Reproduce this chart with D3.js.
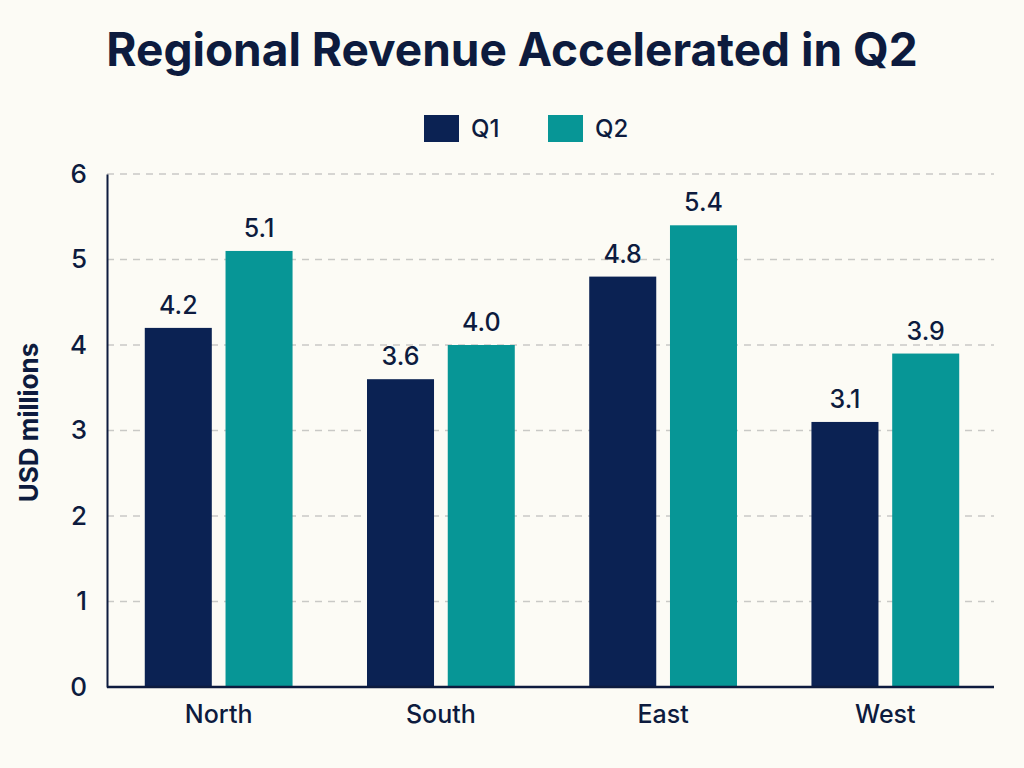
<!DOCTYPE html>
<html>
<head>
<meta charset="utf-8">
<script src="https://cdn.jsdelivr.net/npm/d3@7"></script>
<style>
  body { margin: 0; background: #fcfbf5; }
  svg { display: block; font-family: Inter, "Noto Sans", sans-serif; }
</style>
</head>
<body>
<div class="bar-diagram"></div>
<script>
var regions = ["North", "South", "East", "West"];
var quarters = ["Q1", "Q2"];
var q1Values = [4.2, 3.6, 4.8, 3.1];
var q2Values = [5.1, 4.0, 5.4, 3.9];
var yTicks = [0, 1, 2, 3, 4, 5, 6];

var colors = { Q1: "#0b2253", Q2: "#079696" };
var ink = "#0d1b3e";

var svgWidth = 1024;
var svgHeight = 768;
var margin = { top: 174, right: 28, bottom: 81, left: 107 };
var width = svgWidth - margin.left - margin.right;
var height = svgHeight - margin.top - margin.bottom;

var data = regions.map(function (r, i) {
  return { region: r, Q1: q1Values[i], Q2: q2Values[i] };
});

var svg = d3.select('.bar-diagram')
  .append('svg')
  .attr('width', svgWidth)
  .attr('height', svgHeight);

svg.append("rect")
  .attr("width", svgWidth)
  .attr("height", svgHeight)
  .attr("fill", "#fcfbf5");

// title
svg.append("text")
  .attr("x", 512)
  .attr("y", 66)
  .attr("text-anchor", "middle")
  .attr("font-size", 46)
  .attr("font-weight", 700)
  .attr("fill", ink)
  .text("Regional Revenue Accelerated in Q2");

// legend
var legend = svg.append("g").selectAll("g")
  .data(quarters)
  .enter()
  .append("g")
  .attr("transform", function (d, i) { return "translate(" + (424 + i * 124) + ",115)"; });

legend.append("rect")
  .attr("width", 35)
  .attr("height", 27)
  .attr("fill", function (d) { return colors[d]; });

legend.append("text")
  .attr("x", 47)
  .attr("y", 22)
  .attr("font-size", 24)
  .attr("font-weight", 500)
  .attr("fill", ink)
  .text(function (d) { return d; });

var canvas = svg.append("g")
  .attr("transform", "translate(" + margin.left + "," + margin.top + ")");

var xScale = d3.scaleBand()
  .domain(regions)
  .range([0, width + 1])
  .paddingInner(0.335)
  .paddingOuter(0.17);

var x1 = d3.scaleBand()
  .domain(quarters)
  .range([0, xScale.bandwidth()])
  .paddingInner(0.17);

var yScale = d3.scaleLinear()
  .domain([0, 6])
  .range([height, 0]);

// gridlines
canvas.append("g")
  .selectAll("line")
  .data(yTicks.filter(function (t) { return t > 0; }))
  .enter()
  .append("line")
  .attr("x1", 0)
  .attr("x2", width - 2)
  .attr("y1", function (d) { return yScale(d); })
  .attr("y2", function (d) { return yScale(d); })
  .attr("stroke", "#c9c9c6")
  .attr("stroke-width", 1.5)
  .attr("stroke-dasharray", "7,6");

// bars
var groups = canvas.selectAll(".group")
  .data(data)
  .enter()
  .append("g")
  .attr("class", "group")
  .attr("transform", function (d) { return "translate(" + xScale(d.region) + ",0)"; });

var cells = groups.selectAll("g")
  .data(function (d) {
    return quarters.map(function (q) { return { key: q, value: d[q] }; });
  })
  .enter()
  .append("g");

cells.append("rect")
  .attr("x", function (d) { return x1(d.key); })
  .attr("y", function (d) { return yScale(d.value); })
  .attr("width", x1.bandwidth())
  .attr("height", function (d) { return yScale(0) - yScale(d.value); })
  .attr("fill", function (d) { return colors[d.key]; });

cells.append("text")
  .attr("x", function (d) { return x1(d.key) + x1.bandwidth() / 2; })
  .attr("y", function (d) { return yScale(d.value) - 14; })
  .attr("text-anchor", "middle")
  .attr("font-size", 25)
  .attr("font-weight", 500)
  .attr("fill", ink)
  .text(function (d) { return d.value.toFixed(1); });

// x axis
var xAxis = d3.axisBottom(xScale).tickSize(0).tickPadding(18);
var gx = canvas.append("g")
  .attr("transform", "translate(0," + height + ")")
  .call(xAxis);
gx.select(".domain").remove();
gx.selectAll("text")
  .attr("font-size", 25)
  .attr("font-weight", 500)
  .attr("fill", ink)
  .attr("font-family", "Inter, sans-serif");

canvas.append("line")
  .attr("x1", 0)
  .attr("x2", width - 2)
  .attr("y1", height)
  .attr("y2", height)
  .attr("stroke", ink)
  .attr("stroke-width", 2.5);

// y axis
var yAxis = d3.axisLeft(yScale).tickValues(yTicks).tickFormat(d3.format("d")).tickSize(0).tickPadding(20);
var gy = canvas.append("g").call(yAxis);
gy.select(".domain")
  .attr("stroke", ink)
  .attr("stroke-width", 2);
gy.selectAll("text")
  .attr("font-size", 26)
  .attr("font-weight", 500)
  .attr("fill", ink)
  .attr("font-family", "Inter, sans-serif");

svg.append("text")
  .attr("transform", "translate(38," + (margin.top + height / 2 - 8) + ") rotate(-90)")
  .attr("text-anchor", "middle")
  .attr("font-size", 26)
  .attr("font-weight", 700)
  .attr("fill", ink)
  .text("USD millions");
</script>
</body>
</html>
